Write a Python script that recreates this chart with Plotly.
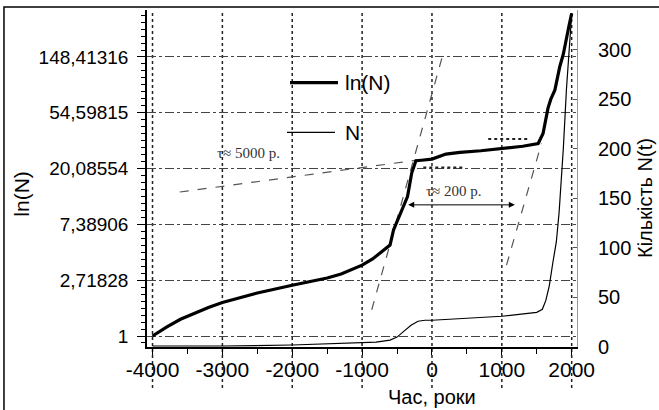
import plotly.graph_objects as go

# ---- data ----
years_ln = [-4000, -3800, -3600, -3400, -3200, -3000, -2500, -2000, -1500, -1300, -1000, -850, -700,
            -600, -550, -450, -350, -290, -230, -150, 0, 200, 400, 700, 1000, 1300,
            1520, 1590, 1660, 1700, 1760, 1830, 1880, 1925, 1960, 2000]
ln_N = [0.0, 0.16, 0.30, 0.41, 0.51, 0.60, 0.77, 0.91, 1.04, 1.11, 1.27, 1.38, 1.52,
        1.63, 1.90, 2.20, 2.50, 2.92, 3.14, 3.15, 3.17, 3.26, 3.29, 3.32, 3.36, 3.40,
        3.45, 3.63, 4.08, 4.24, 4.41, 4.83, 5.05, 5.36, 5.55, 5.78]

years_n = [-4000, -3000, -2000, -1500, -1000, -800, -600, -500, -400, -300, -200, -100,
           0, 500, 1000, 1500, 1580, 1630, 1680, 1730, 1780, 1820, 1850, 1880, 1925,
           1960, 2000]
N_vals = [1, 1, 2, 3, 4, 5, 7, 10, 16, 22, 26, 27,
          27, 29, 31, 35, 38, 47, 62, 85, 106, 136, 165, 200, 260,
          300, 336]

# guide lines (years, ln N)
tau5000_years = [-3610, -220]
tau5000_ln = [2.58, 3.15]
steep1_years = [-862, 162]
steep1_ln = [0.47, 5.07]
steep2_years = [1067, 1567]
steep2_ln = [1.27, 3.45]
level1_years = [-124, 448]
level1_ln = [3.02, 3.02]
level2_years = [805, 1380]
level2_ln = [3.53, 3.53]
arrow_years = [-362, 1186]
arrow_ln = 2.35

ln_ticks = [0, 1, 2, 3, 4, 5]
ln_ticktext = ["1", "2,71828", "7,38906", "20,08554", "54,59815", "148,41316"]
x_ticks = [-4000, -3000, -2000, -1000, 0, 1000, 2000]
n_ticks = [0, 50, 100, 150, 200, 250, 300]

FONT = "Arial, Liberation Sans, sans-serif"
SERIF = "Liberation Serif, Times New Roman, serif"

fig = go.Figure()

# guide dashed lines
for xs, ys in [(tau5000_years, tau5000_ln), (steep1_years, steep1_ln), (steep2_years, steep2_ln)]:
    fig.add_trace(go.Scatter(x=xs, y=ys, mode="lines", showlegend=False, hoverinfo="skip",
                             line=dict(color="#555555", width=1.2, dash="dash")))
for xs, ys in [(level1_years, level1_ln), (level2_years, level2_ln)]:
    fig.add_trace(go.Scatter(x=xs, y=ys, mode="lines", showlegend=False, hoverinfo="skip",
                             line=dict(color="#222222", width=2, dash="dot")))

fig.add_trace(go.Scatter(x=years_n, y=N_vals, mode="lines", name="N", yaxis="y2",
                         line=dict(color="black", width=1.2), showlegend=False))
fig.add_trace(go.Scatter(x=years_ln, y=ln_N, mode="lines", name="ln(N)",
                         line=dict(color="black", width=3.2), showlegend=False))

shapes = []
# vertical dotted grid lines extending below axis
for xv in x_ticks:
    shapes.append(dict(type="line", xref="x", yref="paper", x0=xv, x1=xv, y0=-0.122, y1=1,
                       line=dict(color="#222222", width=1.5, dash="dot"), layer="below"))
# outer frame
shapes.append(dict(type="rect", xref="paper", yref="paper", x0=-0.3326, x1=1.2, y0=-0.21, y1=1.0089,
                   line=dict(color="black", width=1.5)))
# legend lines
shapes.append(dict(type="line", xref="paper", yref="paper", x0=0.3326, x1=0.4442, y0=0.7843, y1=0.7843,
                   line=dict(color="black", width=3.2)))
shapes.append(dict(type="line", xref="paper", yref="paper", x0=0.3256, x1=0.4372, y0=0.6371, y1=0.6371,
                   line=dict(color="black", width=1.2)))

annotations = [
    dict(x=0.4558, y=0.7843, xref="paper", yref="paper", text="ln(N)", showarrow=False,
         xanchor="left", yanchor="middle", font=dict(family=FONT, size=21, color="black")),
    dict(x=0.4558, y=0.6371, xref="paper", yref="paper", text="N", showarrow=False,
         xanchor="left", yanchor="middle", font=dict(family=FONT, size=21, color="black")),
    dict(x=-2629, y=3.28, xref="x", yref="y", text="τ≈ 5000 р.", showarrow=False,
         font=dict(family=SERIF, size=15, color="#333333")),
    dict(x=314, y=2.60, xref="x", yref="y", text="τ≈ 200 р.", showarrow=False,
         font=dict(family=SERIF, size=15, color="#333333")),
    dict(x=arrow_years[1], y=arrow_ln, ax=arrow_years[0], ay=arrow_ln, xref="x", yref="y",
         axref="x", ayref="y", text="", showarrow=True, arrowhead=2, arrowside="end+start",
         arrowsize=1.2, arrowwidth=1, arrowcolor="black"),
    dict(x=0.6628, y=-0.149, xref="paper", yref="paper", text="Час, роки", showarrow=False,
         xanchor="center", yanchor="middle", font=dict(family=FONT, size=20, color="black")),
    dict(x=-0.2907, y=0.455, xref="paper", yref="paper", text="ln(N)", showarrow=False,
         textangle=-90, xanchor="center", yanchor="middle", font=dict(family=FONT, size=21, color="black")),
    dict(x=1.158, y=0.442, xref="paper", yref="paper", text="Кількість N(t)", showarrow=False,
         textangle=-90, xanchor="center", yanchor="middle", font=dict(family=FONT, size=20, color="black")),
]

fig.update_layout(
    width=659, height=410,
    margin=dict(l=147, r=82, t=10, b=63),
    paper_bgcolor="white", plot_bgcolor="white",
    showlegend=False,
    shapes=shapes, annotations=annotations,
    xaxis=dict(range=[-4079, 2076], tickvals=x_ticks, ticktext=[str(v) for v in x_ticks],
               showgrid=False, zeroline=False, showline=True, linecolor="black", linewidth=1.5,
               ticks="outside", ticklen=6, tickcolor="black", ticklabelstandoff=-3,
               minor=dict(dtick=500, tick0=0, ticks="outside", ticklen=5, tickcolor="black", showgrid=False),
               tickfont=dict(family=FONT, size=21, color="black")),
    xaxis2=dict(range=[-4079, 2076], overlaying="x", side="top", showticklabels=False,
                showgrid=False, zeroline=False, showline=True, linecolor="#888888", linewidth=1,
                ticks="inside", ticklen=4, tickcolor="black", dtick=500, tick0=0),
    yaxis=dict(range=[-0.197, 5.842], tickvals=ln_ticks, ticktext=ln_ticktext,
               showgrid=True, gridcolor="#444444", gridwidth=1, griddash="dashdot",
               zeroline=False, showline=True, linecolor="black", linewidth=1.5,
               ticks="outside", ticklen=8, tickcolor="black", ticklabelstandoff=5,
               minor=dict(dtick=0.125, tick0=0, ticks="outside", ticklen=4, tickcolor="black", showgrid=False),
               tickfont=dict(family=FONT, size=19, color="black")),
    yaxis2=dict(range=[0, 340], overlaying="y", side="right", tickvals=n_ticks,
                showgrid=False, zeroline=False, showline=True, linecolor="#999999", linewidth=1,
                ticks="inside", ticklen=4, tickcolor="#555555", ticklabelstandoff=16,
                tickfont=dict(family=FONT, size=20, color="black")),
)

fig.write_html("out.html", config={"displayModeBar": False},
               post_script="document.body.style.margin='0';document.body.style.overflow='hidden';")
